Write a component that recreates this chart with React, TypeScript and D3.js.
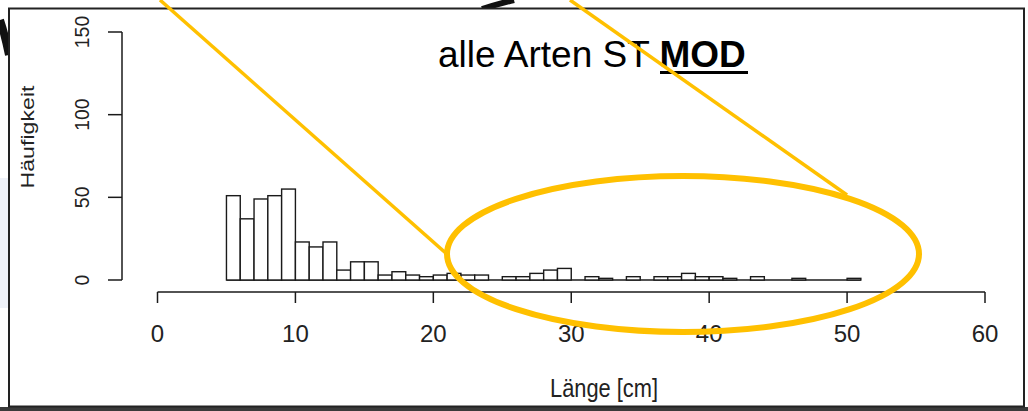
import React from "react";
import * as d3 from "d3";

// Histogram: 1 cm bins starting at these lower edges
const binStarts = [5,6,7,8,9,10,11,12,13,14,15,16,17,18,19,20,21,22,23,24,25,26,27,28,29,30,31,32,33,34,35,36,37,38,39,40,41,42,43,44,45,46,47,48,49,50];
const counts = [51,37,49,51,55,23,20,23,6,11,11,3,5,3,2,3,4,3,3,0,2,2,4,6,7,0,2,1,0,2,0,2,2,4,2,2,1,0,2,0,0,1,0,0,0,1];
const xTicks = [0,10,20,30,40,50,60];
const yTicks = [0,50,100,150];
const titleNormal = "alle Arten ST ";
const titleBold = "MOD";
const xLabel = "Länge [cm]";
const yLabel = "Häufigkeit";

const W = 1028, H = 411;
const FONT = "'Liberation Sans', Arial, sans-serif";
const YELLOW = "#FFC000";

export default function App() {
  const x = d3.scaleLinear().domain([0, 60]).range([157.5, 985]);
  const y = d3.scaleLinear().domain([0, 150]).range([280, 32]);
  const axisY = 292;
  const axisX = 122;
  const firstEdge = binStarts[0];
  const lastEdge = binStarts[binStarts.length - 1] + 1;

  return (
    <svg width={W} height={H} style={{ position: "absolute", left: 0, top: 0, background: "#fff" }}>
      {/* slide background bits */}
      <rect x={0} y={178} width={9} height={130} fill="#eef1f8" />
      <rect x={0} y={407} width={W} height={4} fill="#3a3a3a" />
      <path d="M0,20 Q5,35 9,55" stroke="#111" strokeWidth={8} fill="none" />
      <path d="M514,0 Q498,4 482,9" stroke="#111" strokeWidth={6} fill="none" />
      {/* frame */}
      <rect x={9} y={8.5} width={1015} height={398} fill="#fff" stroke="#222" strokeWidth={2} />

      {/* histogram bars */}
      <g>
        <line x1={x(firstEdge)} x2={x(lastEdge)} y1={y(0)} y2={y(0)} stroke="#1a1a1a" strokeWidth={1.4} />
        {binStarts.map((b, i) => (
          <rect
            key={b}
            x={x(b)}
            y={y(counts[i])}
            width={x(b + 1) - x(b)}
            height={y(0) - y(counts[i])}
            fill="#fff"
            stroke="#1a1a1a"
            strokeWidth={1.4}
          />
        ))}
      </g>

      {/* x axis */}
      <g stroke="#1a1a1a" strokeWidth={1.5}>
        <line x1={x(xTicks[0])} x2={x(xTicks[xTicks.length - 1])} y1={axisY} y2={axisY} />
        {xTicks.map((t) => (
          <line key={t} x1={x(t)} x2={x(t)} y1={axisY} y2={axisY + 11} />
        ))}
      </g>
      {xTicks.map((t) => (
        <text key={t} x={x(t)} y={341.5} textAnchor="middle" fontFamily={FONT} fontSize={24} fill="#222">
          {t}
        </text>
      ))}
      <text x={604} y={397} textAnchor="middle" fontFamily={FONT} fontSize={26} fill="#222" textLength={108} lengthAdjust="spacingAndGlyphs">
        {xLabel}
      </text>

      {/* y axis */}
      <g stroke="#1a1a1a" strokeWidth={1.5}>
        <line x1={axisX} x2={axisX} y1={y(yTicks[0])} y2={y(yTicks[yTicks.length - 1])} />
        {yTicks.map((t) => (
          <line key={t} x1={axisX - 14} x2={axisX} y1={y(t)} y2={y(t)} />
        ))}
      </g>
      {yTicks.map((t) => (
        <text
          key={t}
          transform={`translate(88.5,${y(t)}) rotate(-90)`}
          textAnchor="middle"
          fontFamily={FONT}
          fontSize={20}
          fill="#222"
          textLength={String(t).length * 10.8}
          lengthAdjust="spacingAndGlyphs"
        >
          {t}
        </text>
      ))}
      <text
        transform={`translate(34,137) rotate(-90)`}
        textAnchor="middle"
        fontFamily={FONT}
        fontSize={18}
        fill="#222"
        textLength={103}
        lengthAdjust="spacingAndGlyphs"
      >
        {yLabel}
      </text>

      {/* title */}
      <text x={438} y={66.5} fontFamily={FONT} fontSize={37} fill="#000">
        {titleNormal}
        <tspan fontWeight="bold">{titleBold}</tspan>
      </text>
      <rect x={660} y={71} width={88} height={3} fill="#000" />

      {/* annotations */}
      <line x1={160} y1={0} x2={448} y2={255} stroke={YELLOW} strokeWidth={3.5} />
      <line x1={570} y1={0} x2={847} y2={195} stroke={YELLOW} strokeWidth={3.5} />
      <ellipse cx={683} cy={254} rx={236} ry={78} fill="none" stroke={YELLOW} strokeWidth={6} />
    </svg>
  );
}
